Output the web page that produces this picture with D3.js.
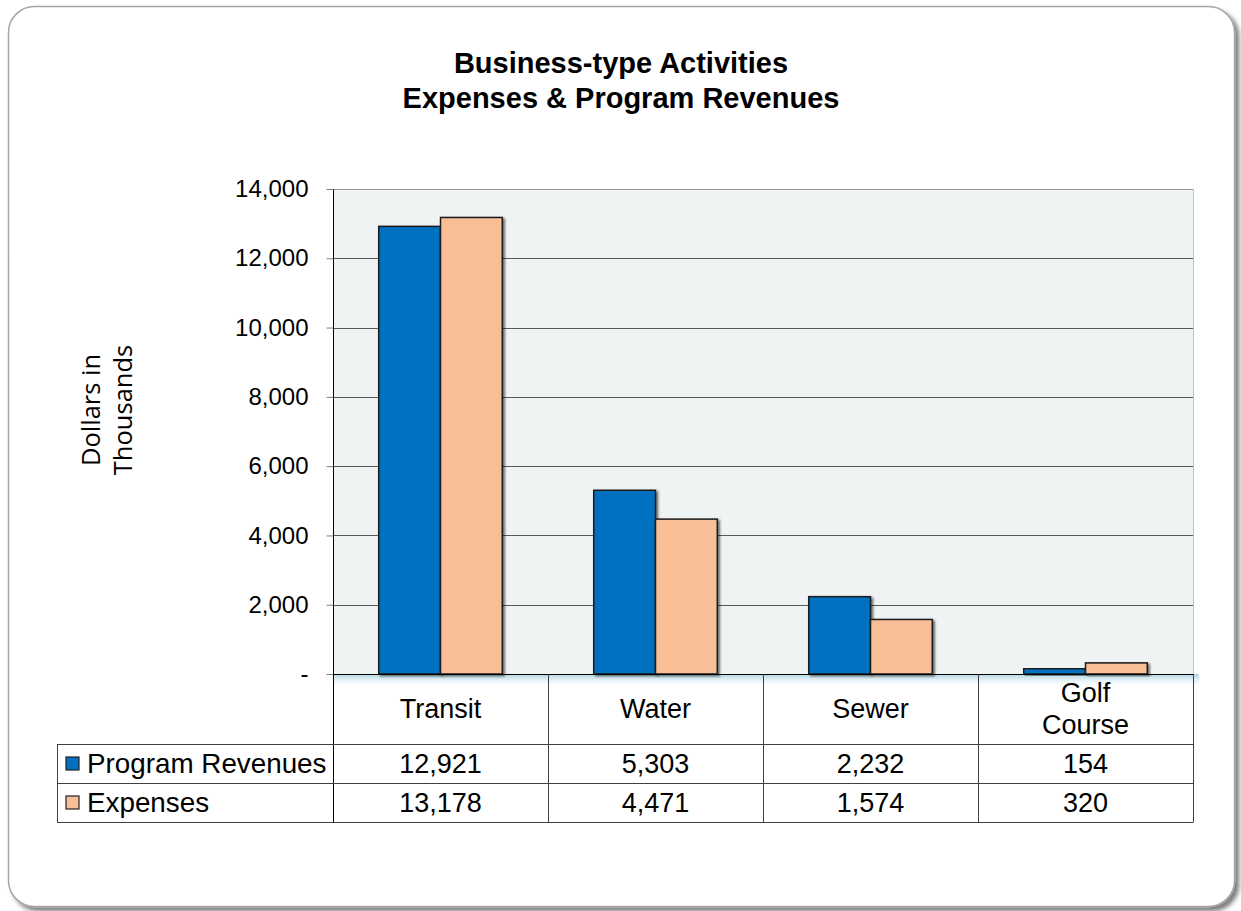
<!DOCTYPE html>
<html>
<head>
<meta charset="utf-8">
<script src="https://cdn.jsdelivr.net/npm/d3@7"></script>
<style>
  html, body { margin: 0; padding: 0; background: #ffffff; }
  svg { display: block; }
</style>
</head>
<body>
<svg id="chart" width="1241" height="911"></svg>
<script>
// Chart data
const categories = ["Transit", "Water", "Sewer", "Golf Course"];
const categoryLines = [["Transit"], ["Water"], ["Sewer"], ["Golf", "Course"]];
const seriesNames = ["Program Revenues", "Expenses"];
const programRevenues = [12921, 5303, 2232, 154];
const expenses = [13178, 4471, 1574, 320];
const yTicks = [0, 2000, 4000, 6000, 8000, 10000, 12000, 14000];
const titleLines = ["Business-type Activities", "Expenses & Program Revenues"];
const yTitleLines = ["Dollars in", "Thousands"];

const seriesValues = [programRevenues, expenses];
const seriesColors = ["#0070c0", "#f8be96"];
const sansFont = "'Liberation Sans', Arial, sans-serif";

const svg = d3.select("#chart");
const defs = svg.append("defs");

// soft drop shadow for the outer frame
const fs = defs.append("filter").attr("id", "frameShadow")
  .attr("x", "-5%").attr("y", "-5%").attr("width", "110%").attr("height", "110%");
fs.append("feDropShadow").attr("dx", 4).attr("dy", 4).attr("stdDeviation", 2)
  .attr("flood-color", "#000").attr("flood-opacity", 0.5);

// bar shadow
const bs = defs.append("filter").attr("id", "barShadow")
  .attr("x", "-10%").attr("y", "-10%").attr("width", "130%").attr("height", "130%");
bs.append("feDropShadow").attr("dx", 2).attr("dy", 1.5).attr("stdDeviation", 1)
  .attr("flood-color", "#000").attr("flood-opacity", 0.55);

// glow under the x axis
const glow = defs.append("linearGradient").attr("id", "axisGlow")
  .attr("x1", 0).attr("y1", 0).attr("x2", 0).attr("y2", 1);
glow.append("stop").attr("offset", "0%").attr("stop-color", "#a9d3df");
glow.append("stop").attr("offset", "100%").attr("stop-color", "#ffffff").attr("stop-opacity", 0);

// Outer rounded frame
svg.append("rect")
  .attr("x", 8.5).attr("y", 6.5).attr("width", 1226).attr("height", 900)
  .attr("rx", 26).attr("ry", 26)
  .attr("fill", "#ffffff").attr("stroke", "#a6a6a6").attr("stroke-width", 1.5)
  .attr("filter", "url(#frameShadow)");

// Title
svg.append("g").selectAll("text").data(titleLines).join("text")
  .attr("x", 621).attr("y", (d, i) => 73 + i * 35)
  .attr("text-anchor", "middle")
  .attr("font-family", sansFont)
  .attr("font-weight", "bold").attr("font-size", 29)
  .attr("fill", "#000").text(d => d);

// Layout of plot
const plotLeft = 333, plotRight = 1193, plotTop = 189, plotBottom = 674;

const x = d3.scaleBand().domain(categories).range([plotLeft, plotRight]).paddingInner(0).paddingOuter(0);
const xs = d3.scaleBand().domain(seriesNames).range([0, x.bandwidth()]).paddingInner(0).paddingOuter(0.74);
const y = d3.scaleLinear().domain([0, 14000]).range([plotBottom, plotTop]);

// Plot background
svg.append("rect")
  .attr("x", plotLeft).attr("y", plotTop)
  .attr("width", plotRight - plotLeft).attr("height", plotBottom - plotTop)
  .attr("fill", "#eff3f4");

// glow band below the axis
svg.append("rect")
  .attr("x", plotLeft).attr("y", plotBottom)
  .attr("width", plotRight - plotLeft + 6).attr("height", 14)
  .attr("fill", "url(#axisGlow)");

// right border of plot (light)
svg.append("line")
  .attr("x1", plotRight + 0.5).attr("x2", plotRight + 0.5)
  .attr("y1", plotTop).attr("y2", plotBottom)
  .attr("stroke", "#c0c0c0").attr("stroke-width", 1);

// Gridlines
svg.append("g").selectAll("line").data(yTicks.filter(t => t > 0)).join("line")
  .attr("x1", plotLeft).attr("x2", plotRight)
  .attr("y1", d => Math.round(y(d)) + 0.5).attr("y2", d => Math.round(y(d)) + 0.5)
  .attr("stroke", d => d === 14000 ? "#9a9a9a" : "#595959").attr("stroke-width", 1);

// Y axis
const yAxis = d3.axisLeft(y).tickValues(yTicks).tickSize(7).tickPadding(18)
  .tickFormat(d => d === 0 ? "-" : d3.format(",")(d));
const yg = svg.append("g").attr("transform", `translate(${plotLeft + 0.5},0)`).call(yAxis);
yg.select(".domain").attr("stroke", "#000").attr("d", `M0,${plotTop}V${plotBottom}`);
yg.selectAll(".tick line").attr("stroke", "#7f7f7f");
yg.selectAll(".tick text")
  .attr("font-family", sansFont)
  .attr("font-size", 24).attr("fill", "#000");

// Y title
svg.append("g").attr("transform", "translate(100,410) rotate(-90)")
  .selectAll("text").data(yTitleLines).join("text")
  .attr("x", 0).attr("y", (d, i) => i * 32)
  .attr("text-anchor", "middle")
  .attr("font-family", "'Open Sans', 'Noto Sans', sans-serif")
  .attr("font-size", 25.5).attr("fill", "#000").text(d => d);

// Bars
const barData = [];
categories.forEach((c, ci) => {
  seriesNames.forEach((s, si) => {
    barData.push({ cat: c, series: s, value: seriesValues[si][ci], color: seriesColors[si] });
  });
});
svg.append("g").selectAll("rect").data(barData).join("rect")
  .attr("x", d => x(d.cat) + xs(d.series))
  .attr("y", d => y(d.value))
  .attr("width", xs.bandwidth())
  .attr("height", d => plotBottom - y(d.value))
  .attr("fill", d => d.color)
  .attr("stroke", "#1a1a1a").attr("stroke-width", 1.5)
  .attr("filter", "url(#barShadow)");

// X axis line
svg.append("line")
  .attr("x1", plotLeft).attr("x2", plotRight)
  .attr("y1", plotBottom + 0.5).attr("y2", plotBottom + 0.5)
  .attr("stroke", "#000").attr("stroke-width", 1);

// Data table
const tableLeft = 57;
const headerBottom = 744;
const rowH = 39;
const rows = [headerBottom, headerBottom + rowH, headerBottom + 2 * rowH];
const tableFont = 27;
const tg = svg.append("g");

// vertical lines between categories
const vlines = categories.map(c => x(c)).concat([plotRight]);
tg.selectAll("line.v").data(vlines).join("line").attr("class", "v")
  .attr("x1", d => Math.round(d) + 0.5).attr("x2", d => Math.round(d) + 0.5)
  .attr("y1", plotBottom).attr("y2", rows[2])
  .attr("stroke", (d, i) => i === 0 ? "#000" : "#404040").attr("stroke-width", 1);
// left edge of legend column
tg.append("line")
  .attr("x1", tableLeft + 0.5).attr("x2", tableLeft + 0.5)
  .attr("y1", rows[0]).attr("y2", rows[2])
  .attr("stroke", "#404040");
// horizontal lines
tg.selectAll("line.h").data(rows).join("line").attr("class", "h")
  .attr("x1", tableLeft).attr("x2", plotRight + 0.5)
  .attr("y1", d => d + 0.5).attr("y2", d => d + 0.5)
  .attr("stroke", "#404040");

// category labels
const catG = tg.selectAll("g.cat").data(categories).join("g").attr("class", "cat");
catG.each(function (c, ci) {
  const lines = categoryLines[ci];
  const cx = x(c) + x.bandwidth() / 2;
  const midY = (plotBottom + headerBottom) / 2;
  d3.select(this).selectAll("text").data(lines).join("text")
    .attr("x", cx)
    .attr("y", (d, i) => midY + 9 + (i - (lines.length - 1) / 2) * 32)
    .attr("text-anchor", "middle")
    .attr("font-family", sansFont)
    .attr("font-size", tableFont).attr("fill", "#000").text(d => d);
});

// series rows
seriesNames.forEach((s, si) => {
  const ry = rows[si];
  const cy = ry + rowH / 2;
  tg.append("rect")
    .attr("x", 66).attr("y", cy - 6.5).attr("width", 13).attr("height", 13)
    .attr("fill", seriesColors[si]).attr("stroke", "#222").attr("stroke-width", 1.2);
  tg.append("text")
    .attr("x", 87).attr("y", cy + 9.5)
    .attr("font-family", sansFont)
    .attr("font-size", 27.8).attr("fill", "#000").text(s);
  tg.selectAll(null).data(categories).join("text")
    .attr("x", c => x(c) + x.bandwidth() / 2).attr("y", cy + 9.5)
    .attr("text-anchor", "middle")
    .attr("font-family", sansFont)
    .attr("font-size", tableFont).attr("fill", "#000")
    .text((c, ci) => d3.format(",")(seriesValues[si][ci]));
});
</script>
</body>
</html>
